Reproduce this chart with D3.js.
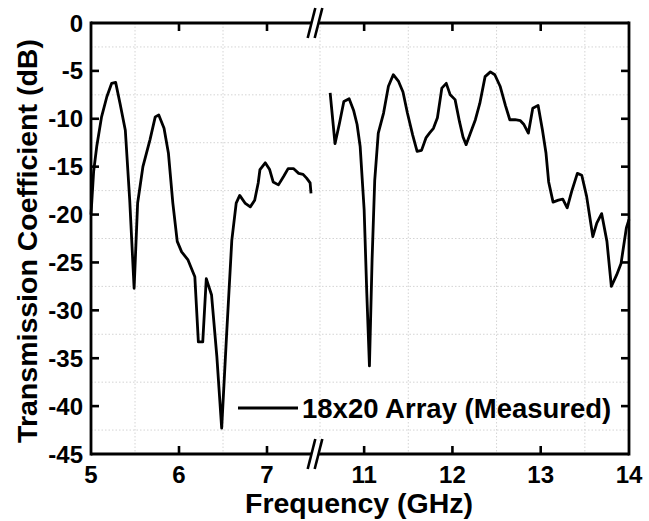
<!DOCTYPE html>
<html>
<head>
<meta charset="utf-8">
<script src="https://cdn.jsdelivr.net/npm/d3@7"></script>
<style>
html,body{margin:0;padding:0;background:#fff;}
svg{display:block;}
text{font-family:"Liberation Sans",Arial,Helvetica,sans-serif;font-weight:bold;fill:#000;}
</style>
</head>
<body>
<svg id="chart" width="649" height="521"></svg>
<script>
// ---- data ----
const lowFreq = [5.00, 5.03, 5.065, 5.12, 5.18, 5.235, 5.28, 5.33, 5.39, 5.44, 5.49, 5.53, 5.59, 5.67, 5.73, 5.77, 5.83, 5.88, 5.93, 5.98, 6.03, 6.10, 6.18, 6.22, 6.27, 6.31, 6.37, 6.43, 6.485, 6.54, 6.60, 6.65, 6.69, 6.75, 6.81, 6.86, 6.90, 6.92, 6.98, 7.03, 7.07, 7.13, 7.19, 7.24, 7.30, 7.36, 7.41, 7.45, 7.49, 7.50];
const lowDb = [-20.0, -15.5, -12.9, -9.8, -7.7, -6.3, -6.2, -8.4, -11.2, -18.5, -27.7, -18.8, -15.0, -12.2, -9.8, -9.6, -11.0, -13.6, -18.8, -22.8, -23.9, -24.7, -26.5, -33.3, -33.3, -26.7, -28.4, -34.8, -42.3, -32.7, -22.7, -18.8, -18.0, -18.8, -19.2, -18.5, -16.7, -15.3, -14.6, -15.3, -16.6, -16.9, -16.0, -15.2, -15.2, -15.7, -15.8, -16.2, -16.7, -17.8];
const highFreq = [10.615, 10.67, 10.72, 10.77, 10.83, 10.88, 10.92, 10.955, 11.0, 11.03, 11.06, 11.09, 11.12, 11.16, 11.22, 11.275, 11.33, 11.39, 11.44, 11.49, 11.55, 11.60, 11.65, 11.70, 11.74, 11.785, 11.83, 11.88, 11.93, 11.975, 12.03, 12.08, 12.12, 12.155, 12.20, 12.26, 12.31, 12.37, 12.43, 12.48, 12.54, 12.60, 12.65, 12.71, 12.77, 12.81, 12.86, 12.91, 12.97, 13.02, 13.06, 13.09, 13.14, 13.20, 13.25, 13.30, 13.35, 13.415, 13.465, 13.52, 13.59, 13.635, 13.69, 13.75, 13.80, 13.86, 13.91, 13.97, 14.0];
const highDb = [-7.3, -12.6, -10.5, -8.2, -7.9, -9.1, -10.6, -12.9, -19.5, -28.2, -35.8, -24.7, -16.4, -11.5, -9.4, -6.6, -5.4, -6.1, -7.2, -9.4, -11.7, -13.4, -13.3, -12.0, -11.5, -11.0, -9.9, -6.8, -6.3, -7.5, -8.0, -10.3, -11.9, -12.7, -11.6, -10.1, -8.4, -5.6, -5.1, -5.4, -6.6, -8.6, -10.1, -10.1, -10.2, -10.6, -11.5, -8.9, -8.6, -11.2, -13.6, -16.6, -18.7, -18.5, -18.4, -19.3, -17.6, -15.7, -15.9, -18.1, -22.3, -20.9, -19.9, -22.8, -27.5, -26.3, -25.1, -21.4, -20.5];
const lowTicks = [5, 6, 7];
const highTicks = [11, 12, 13, 14];
const lowGrid = [5.5, 6.5];
const highGrid = [10.5, 11.5, 12.5, 13.5];
const yTicks = [0, -5, -10, -15, -20, -25, -30, -35, -40, -45];
const yGrid = [-2.5, -7.5, -12.5, -17.5, -22.5, -27.5, -32.5, -37.5, -42.5];
const xTitle = "Frequency (GHz)";
const yTitle = "Transmission Coefficient (dB)";
const seriesName = "18x20 Array (Measured)";

// ---- layout ----
const L = 91, R = 629, T = 23, B = 454;
const svg = d3.select("#chart");
svg.append("rect").attr("width", 649).attr("height", 521).attr("fill", "#fff");

const xL = d3.scaleLinear().domain([5, 7.5]).range([L, 311]);
const xR = d3.scaleLinear().domain([10.5, 14]).range([320, R]);
const y = d3.scaleLinear().domain([-45, 0]).range([B, T]);
const xf = f => (f <= 7.5 ? xL(f) : xR(f));

// grid (dotted, minor positions)
const grid = svg.append("g").attr("stroke", "#d4d4d4").attr("stroke-width", 1).attr("stroke-dasharray", "1.5,2");
lowGrid.concat(highGrid).forEach(g => {
  grid.append("line").attr("x1", xf(g)).attr("x2", xf(g)).attr("y1", T).attr("y2", B);
});
yGrid.forEach(g => {
  grid.append("line").attr("x1", L).attr("x2", R).attr("y1", y(g)).attr("y2", y(g));
});

// data lines
const line = d3.line().x(d => xf(d[0])).y(d => y(d[1])).curve(d3.curveLinear);
const lowData = lowFreq.map((f, i) => [f, lowDb[i]]);
const highData = highFreq.map((f, i) => [f, highDb[i]]);
[lowData, highData].forEach(data => {
  svg.append("path").datum(data).attr("d", line)
    .attr("fill", "none").attr("stroke", "#000").attr("stroke-width", 2.8)
    .attr("stroke-linejoin", "round");
});

// axes frame
const ax = svg.append("g").attr("stroke", "#000").attr("stroke-width", 2.8).attr("fill", "none");
const bx1 = 311.5, bx2 = 318.5;
// bottom & top (broken)
[B, T].forEach(yy => {
  ax.append("line").attr("x1", L).attr("x2", bx1).attr("y1", yy).attr("y2", yy);
  ax.append("line").attr("x1", bx2).attr("x2", R).attr("y1", yy).attr("y2", yy);
});
ax.append("line").attr("x1", L).attr("x2", L).attr("y1", T - 1.4).attr("y2", B + 1.4);
ax.append("line").attr("x1", R).attr("x2", R).attr("y1", T - 1.4).attr("y2", B + 1.4);
// break marks
const brk = svg.append("g").attr("stroke", "#000").attr("stroke-width", 2.6);
[B, T].forEach(yy => {
  [bx1, bx2].forEach(bx => {
    brk.append("line").attr("x1", bx + 3.8).attr("y1", yy - 15).attr("x2", bx - 3.8).attr("y2", yy + 15);
  });
});

// ticks (inward)
const tk = 8;
const tickG = svg.append("g").attr("stroke", "#000").attr("stroke-width", 2.6);
lowTicks.map(xL).concat(highTicks.map(xR)).forEach(px => {
  if (px > L + 2 && px < R - 2) {
    tickG.append("line").attr("x1", px).attr("x2", px).attr("y1", B).attr("y2", B - tk);
    tickG.append("line").attr("x1", px).attr("x2", px).attr("y1", T).attr("y2", T + tk);
  }
});
yTicks.forEach(v => {
  const py = y(v);
  if (py > T + 2 && py < B - 2) {
    tickG.append("line").attr("x1", L).attr("x2", L + tk).attr("y1", py).attr("y2", py);
    tickG.append("line").attr("x1", R).attr("x2", R - tk).attr("y1", py).attr("y2", py);
  }
});

// tick labels
const lab = svg.append("g").attr("font-size", 24);
lowTicks.forEach(v => lab.append("text").attr("x", xL(v)).attr("y", 483).attr("text-anchor", "middle").text(v));
highTicks.forEach(v => lab.append("text").attr("x", xR(v)).attr("y", 483).attr("text-anchor", "middle").text(v));
yTicks.forEach(v => lab.append("text").attr("x", 83).attr("y", y(v) + 8.6).attr("text-anchor", "end").text(v));

// axis titles
svg.append("text").attr("x", 359).attr("y", 513).attr("text-anchor", "middle").attr("font-size", 28.5).text(xTitle);
svg.append("text").attr("transform", "translate(37," + 241 + ") rotate(-90)")
  .attr("text-anchor", "middle").attr("font-size", 28.5).text(yTitle);

// legend
svg.append("line").attr("x1", 238).attr("x2", 298).attr("y1", 408).attr("y2", 408)
  .attr("stroke", "#000").attr("stroke-width", 2.8);
svg.append("text").attr("x", 302).attr("y", 418).attr("font-size", 27.5).text(seriesName);
</script>
</body>
</html>
